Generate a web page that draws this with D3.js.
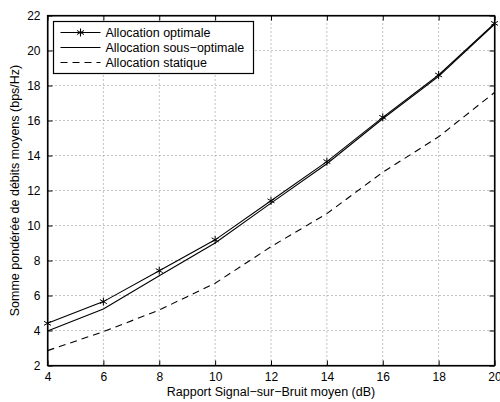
<!DOCTYPE html>
<html>
<head>
<meta charset="utf-8">
<script src="https://cdn.jsdelivr.net/npm/d3@7"></script>
<style>
  body { margin: 0; background: #fff; }
  svg { font-family: "Liberation Sans", Arial, sans-serif; }
</style>
</head>
<body>
<svg id="chart" width="500" height="402"></svg>
<script>
const snr = [4, 6, 8, 10, 12, 14, 16, 18, 20];
const optimale = [4.41, 5.65, 7.42, 9.18, 11.41, 13.65, 16.18, 18.6, 21.55];
const sousOptimale = [3.97, 5.23, 7.13, 9.0, 11.28, 13.53, 16.1, 18.52, 21.5];
const statique = [2.85, 3.93, 5.17, 6.7, 8.79, 10.68, 13.04, 15.07, 17.6];
const xTicks = [4, 6, 8, 10, 12, 14, 16, 18, 20];
const yTicks = [2, 4, 6, 8, 10, 12, 14, 16, 18, 20, 22];

const svg = d3.select("#chart");
const margin = { top: 15.5, right: 5.5, bottom: 36.5, left: 47.5 };
const width = 500 - margin.left - margin.right;
const height = 402 - margin.top - margin.bottom;

const x = d3.scaleLinear().domain([4, 20]).range([0, width]);
const y = d3.scaleLinear().domain([2, 22]).range([height, 0]);

const g = svg.append("g")
  .attr("transform", `translate(${margin.left},${margin.top})`);

// dotted grid
g.append("g").selectAll("line")
  .data(xTicks.slice(1, -1))
  .enter().append("line")
  .attr("x1", d => x(d)).attr("x2", d => x(d))
  .attr("y1", 0).attr("y2", height)
  .attr("stroke", "#888").attr("stroke-dasharray", "1,3");
g.append("g").selectAll("line")
  .data(yTicks.slice(1, -1))
  .enter().append("line")
  .attr("x1", 0).attr("x2", width)
  .attr("y1", d => y(d)).attr("y2", d => y(d))
  .attr("stroke", "#888").attr("stroke-dasharray", "1,3");

// axes with inward ticks on all four sides
const tick = 5;
g.append("g")
  .attr("transform", `translate(0,${height})`)
  .call(d3.axisBottom(x).tickValues(xTicks).tickSizeInner(-tick).tickSizeOuter(0).tickPadding(7))
  .call(a => a.selectAll("text").attr("font-size", 12));
g.append("g")
  .call(d3.axisLeft(y).tickValues(yTicks).tickSizeInner(-tick).tickSizeOuter(0).tickPadding(7))
  .call(a => a.selectAll("text").attr("font-size", 12));
g.append("g")
  .call(d3.axisTop(x).tickValues(xTicks).tickSizeInner(-tick).tickSizeOuter(0).tickFormat(""));
g.append("g")
  .attr("transform", `translate(${width},0)`)
  .call(d3.axisRight(y).tickValues(yTicks).tickSizeInner(-tick).tickSizeOuter(0).tickFormat(""));
g.selectAll(".domain").attr("stroke", "#000");
g.selectAll(".tick line").attr("stroke", "#000");
g.selectAll(".tick text").attr("fill", "#000");

g.append("rect")
  .attr("width", width).attr("height", height)
  .attr("fill", "none").attr("stroke", "#000").attr("stroke-width", 1.2);

const line = d3.line().x((d, i) => x(snr[i])).y(d => y(d));

g.append("path").datum(sousOptimale)
  .attr("d", line).attr("fill", "none").attr("stroke", "#000").attr("stroke-width", 1.1);
g.append("path").datum(statique)
  .attr("d", line).attr("fill", "none").attr("stroke", "#000").attr("stroke-width", 1.1)
  .attr("stroke-dasharray", "7,5");
g.append("path").datum(optimale)
  .attr("d", line).attr("fill", "none").attr("stroke", "#000").attr("stroke-width", 1.1);

const star = d3.symbol().type(d3.symbolAsterisk).size(45);
g.append("g").selectAll("path")
  .data(optimale)
  .enter().append("path")
  .attr("d", star)
  .attr("transform", (d, i) => `translate(${x(snr[i])},${y(d)})`)
  .attr("fill", "none").attr("stroke", "#000").attr("stroke-width", 1);

// legend
const legend = svg.append("g").attr("transform", "translate(53.5,21.5)");
legend.append("rect")
  .attr("width", 200).attr("height", 52)
  .attr("fill", "#fff").attr("stroke", "#000").attr("stroke-width", 1.2);
const entries = [
  { label: "Allocation optimale", dash: null, marker: true },
  { label: "Allocation sous\u2212optimale", dash: null, marker: false },
  { label: "Allocation statique", dash: "7,5", marker: false }
];
entries.forEach((e, i) => {
  const yy = 11 + i * 15;
  legend.append("line")
    .attr("x1", 7).attr("x2", 47).attr("y1", yy).attr("y2", yy)
    .attr("stroke", "#000").attr("stroke-width", 1.1)
    .attr("stroke-dasharray", e.dash);
  if (e.marker) {
    legend.append("path").attr("d", star)
      .attr("transform", `translate(27,${yy})`)
      .attr("fill", "none").attr("stroke", "#000").attr("stroke-width", 1);
  }
  legend.append("text")
    .attr("x", 52).attr("y", yy).attr("dy", "0.35em")
    .attr("font-size", 12.5).text(e.label);
});

// axis labels
svg.append("text")
  .attr("x", margin.left + width / 2).attr("y", 396)
  .attr("text-anchor", "middle").attr("font-size", 12.5)
  .text("Rapport Signal\u2212sur\u2212Bruit moyen (dB)");
svg.append("text")
  .attr("transform", `translate(19,${margin.top + height / 2}) rotate(-90)`)
  .attr("text-anchor", "middle").attr("font-size", 12.5)
  .text("Somme pondérée de débits moyens (bps/Hz)");
</script>
</body>
</html>
